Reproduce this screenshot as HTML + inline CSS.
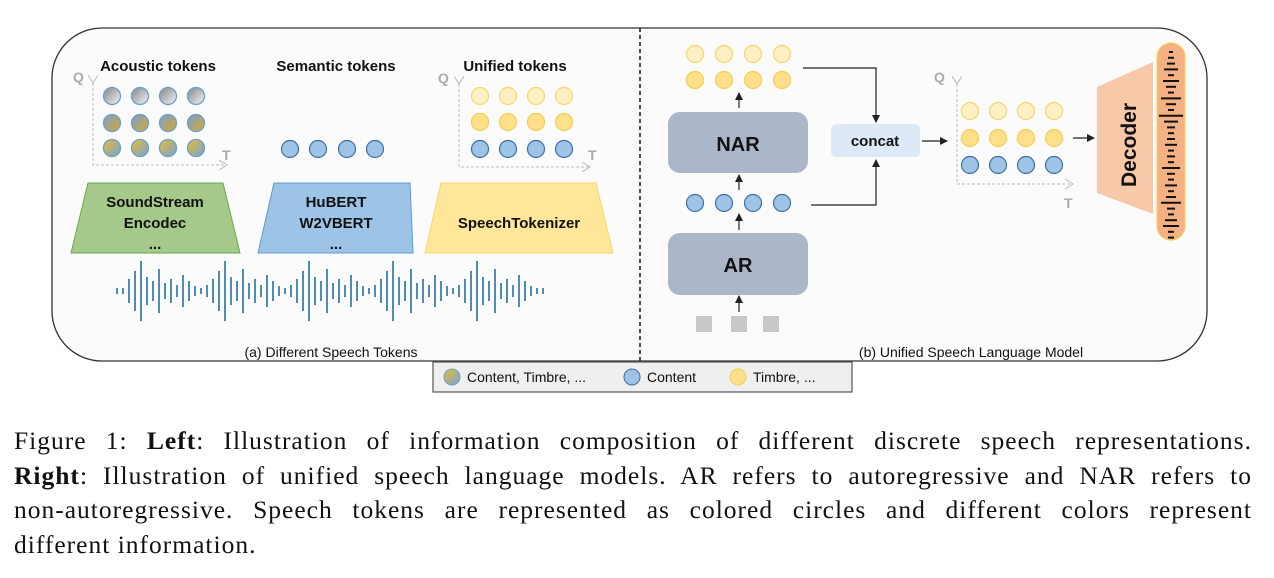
<!DOCTYPE html>
<html><head><meta charset="utf-8"><style>
body{margin:0;background:#fff;width:1274px;height:578px;overflow:hidden}
svg{position:absolute;left:0;top:0}
.cap{position:absolute;left:14px;top:424px;width:1238px;font-family:"Liberation Serif",serif;font-size:25.5px;letter-spacing:1px;line-height:34.5px;color:#111}
.cap div{white-space:nowrap}
.j{text-align:justify;text-align-last:justify;white-space:normal!important}
</style></head><body>
<svg width="1274" height="420" viewBox="0 0 1274 420" font-family="Liberation Sans, sans-serif">
<defs>
<linearGradient id="g1" x1="0" y1="0" x2="1" y2="1"><stop offset="0.2" stop-color="#9a9a9a"/><stop offset="0.8" stop-color="#e0e0e0"/></linearGradient>
<linearGradient id="g2" x1="0" y1="0" x2="1" y2="1"><stop offset="0.2" stop-color="#8fa0b0"/><stop offset="0.8" stop-color="#c4a84a"/></linearGradient>
<linearGradient id="g3" x1="0" y1="0" x2="1" y2="1"><stop offset="0.1" stop-color="#e2b93a"/><stop offset="0.9" stop-color="#7ea6cc"/></linearGradient>
<marker id="ar" markerWidth="8" markerHeight="8" refX="7" refY="4" orient="auto" markerUnits="userSpaceOnUse"><path d="M0,0 L8,4 L0,8 z" fill="#222"/></marker>
<marker id="ag" markerWidth="10" markerHeight="10" refX="8" refY="5" orient="auto" markerUnits="userSpaceOnUse"><path d="M0,0 L8,5 L0,10" fill="none" stroke="#bbb"/></marker>
</defs>
<rect x="52" y="28" width="1155" height="333" rx="50" fill="#fbfbfb" stroke="#333" stroke-width="1.3"/>
<line x1="640" y1="28" x2="640" y2="361" stroke="#222" stroke-width="1.6" stroke-dasharray="4,3"/>

<g font-weight="bold" font-size="15" fill="#111" text-anchor="middle">
<text x="158" y="71">Acoustic tokens</text>
<text x="336" y="71">Semantic tokens</text>
<text x="515" y="71">Unified tokens</text>
</g>
<g font-weight="bold" font-size="14" fill="#aaa">
<text x="73" y="82">Q</text><text x="222" y="160">T</text>
<text x="438" y="83">Q</text><text x="588" y="160">T</text>
<text x="934" y="82">Q</text><text x="1064" y="208">T</text>
</g>
<g stroke="#bbb" stroke-dasharray="3,2" fill="none">
<polyline points="93,83 93,165 227,165" marker-start="url(#ag)" marker-end="url(#ag)"/>
<polyline points="459,84 459,167 590,167" marker-start="url(#ag)" marker-end="url(#ag)"/>
<polyline points="957,84 957,184 1073,184" marker-start="url(#ag)" marker-end="url(#ag)"/>
</g>
<g stroke="#6a9fd0" stroke-width="1.3">
<circle cx="112" cy="96" r="8.5" fill="url(#g1)"/><circle cx="140" cy="96" r="8.5" fill="url(#g1)"/><circle cx="168" cy="96" r="8.5" fill="url(#g1)"/><circle cx="196" cy="96" r="8.5" fill="url(#g1)"/>
<circle cx="112" cy="123" r="8.5" fill="url(#g2)"/><circle cx="140" cy="123" r="8.5" fill="url(#g2)"/><circle cx="168" cy="123" r="8.5" fill="url(#g2)"/><circle cx="196" cy="123" r="8.5" fill="url(#g2)"/>
<circle cx="112" cy="148" r="8.5" fill="url(#g3)"/><circle cx="140" cy="148" r="8.5" fill="url(#g3)"/><circle cx="168" cy="148" r="8.5" fill="url(#g3)"/><circle cx="196" cy="148" r="8.5" fill="url(#g3)"/>
</g>
<g fill="#9dc3e6" stroke="#3f6f9f" stroke-width="1.2">
<circle cx="290" cy="149" r="8.5"/><circle cx="318" cy="149" r="8.5"/><circle cx="347" cy="149" r="8.5"/><circle cx="375" cy="149" r="8.5"/>
<circle cx="480" cy="149" r="8.5"/><circle cx="508" cy="149" r="8.5"/><circle cx="536" cy="149" r="8.5"/><circle cx="564" cy="149" r="8.5"/>
<circle cx="695" cy="203" r="8.5"/><circle cx="724" cy="203" r="8.5"/><circle cx="753" cy="203" r="8.5"/><circle cx="782" cy="203" r="8.5"/>
<circle cx="970" cy="165" r="8.5"/><circle cx="998" cy="165" r="8.5"/><circle cx="1026" cy="165" r="8.5"/><circle cx="1054" cy="165" r="8.5"/>
</g>
<g fill="#ffe08a" stroke="#f5cd50" stroke-width="1.2">
<circle cx="480" cy="122" r="8.5"/><circle cx="508" cy="122" r="8.5"/><circle cx="536" cy="122" r="8.5"/><circle cx="564" cy="122" r="8.5"/>
<circle cx="695" cy="80" r="8.5"/><circle cx="724" cy="80" r="8.5"/><circle cx="753" cy="80" r="8.5"/><circle cx="782" cy="80" r="8.5"/>
<circle cx="970" cy="138" r="8.5"/><circle cx="998" cy="138" r="8.5"/><circle cx="1026" cy="138" r="8.5"/><circle cx="1054" cy="138" r="8.5"/>
</g>
<g fill="#fff0c4" stroke="#f5d570" stroke-width="1.2">
<circle cx="480" cy="96" r="8.5"/><circle cx="508" cy="96" r="8.5"/><circle cx="536" cy="96" r="8.5"/><circle cx="564" cy="96" r="8.5"/>
<circle cx="695" cy="54" r="8.5"/><circle cx="724" cy="54" r="8.5"/><circle cx="753" cy="54" r="8.5"/><circle cx="782" cy="54" r="8.5"/>
<circle cx="970" cy="111" r="8.5"/><circle cx="998" cy="111" r="8.5"/><circle cx="1026" cy="111" r="8.5"/><circle cx="1054" cy="111" r="8.5"/>
</g>
<polygon points="88,183 223,183 240,253 71,253" fill="#a5c98a" stroke="#6aa84f"/>
<polygon points="274,183 410,183 413,253 258,253" fill="#9dc3e6" stroke="#5b9bd5"/>
<polygon points="441,183 596,183 613,253 425,253" fill="#ffe699" stroke="#f5d76e"/>
<g font-weight="bold" font-size="15" fill="#111" text-anchor="middle">
<text x="155" y="207">SoundStream</text><text x="155" y="228">Encodec</text><text x="155" y="249">...</text>
<text x="336" y="207">HuBERT</text><text x="336" y="228">W2VBERT</text><text x="336" y="249">...</text>
<text x="519" y="228">SpeechTokenizer</text>
</g>
<g id="wave" stroke="#3f7fad" stroke-width="1.8"></g>
<text x="331" y="357" font-size="14" fill="#111" text-anchor="middle">(a) Different Speech Tokens</text>
<text x="971" y="357" font-size="14" fill="#111" text-anchor="middle">(b) Unified Speech Language Model</text>

<rect x="668" y="112" width="140" height="61" rx="12" fill="#abb6c9"/>
<rect x="668" y="233" width="140" height="62" rx="12" fill="#abb6c9"/>
<text x="738" y="151" font-size="20" font-weight="bold" text-anchor="middle" fill="#111">NAR</text>
<text x="738" y="272" font-size="20" font-weight="bold" text-anchor="middle" fill="#111">AR</text>
<rect x="696" y="316" width="16" height="16" fill="#c8c8c8"/><rect x="731" y="316" width="16" height="16" fill="#c8c8c8"/><rect x="763" y="316" width="16" height="16" fill="#c8c8c8"/>
<g stroke="#222" stroke-width="1.2" fill="none">
<line x1="739" y1="108" x2="739" y2="93" marker-end="url(#ar)"/>
<line x1="739" y1="190" x2="739" y2="175" marker-end="url(#ar)"/>
<line x1="739" y1="230" x2="739" y2="214" marker-end="url(#ar)"/>
<line x1="739" y1="312" x2="739" y2="296" marker-end="url(#ar)"/>
<polyline points="803,68 876,68 876,122" marker-end="url(#ar)"/>
<polyline points="811,205 876,205 876,160" marker-end="url(#ar)"/>
<line x1="922" y1="141" x2="947" y2="141" marker-end="url(#ar)"/>
<line x1="1073" y1="138" x2="1094" y2="138" marker-end="url(#ar)"/>
</g>
<rect x="831" y="124" width="89" height="33" rx="5" fill="#dde9f6"/>
<text x="875" y="146" font-size="15" font-weight="bold" text-anchor="middle" fill="#111">concat</text>
<polygon points="1097,87 1153,62 1153,214 1097,193" fill="#f8c9a8"/>
<text transform="translate(1136,145) rotate(-90)" font-size="21" font-weight="bold" text-anchor="middle" fill="#111">Decoder</text>
<rect x="1157" y="43" width="28" height="197" rx="14" fill="#f4b183" stroke="#f7d060" stroke-width="1.2"/>
<g id="wave2" stroke="#111" stroke-width="2"></g>

<rect x="433" y="362" width="419" height="30" fill="#efefef" stroke="#555" stroke-width="1.2"/>
<circle cx="452" cy="377" r="8" fill="url(#g3)" stroke="#6a9fd0"/>
<text x="467" y="382" font-size="14" fill="#111">Content, Timbre, ...</text>
<circle cx="632" cy="377" r="8" fill="#9dc3e6" stroke="#3f6f9f"/>
<text x="647" y="382" font-size="14" fill="#111">Content</text>
<circle cx="738" cy="377" r="8" fill="#ffe08a" stroke="#f5cd50"/>
<text x="753" y="382" font-size="14" fill="#111">Timbre, ...</text>
</svg>
<div class="cap">
<div class="j">Figure 1: <b>Left</b>: Illustration of information composition of different discrete speech representations.</div>
<div class="j"><b>Right</b>: Illustration of unified speech language models. AR refers to autoregressive and NAR refers to</div>
<div class="j">non-autoregressive. Speech tokens are represented as colored circles and different colors represent</div>
<div>different information.</div>
</div>
<script>
(function(){
var ns="http://www.w3.org/2000/svg";
var w=document.getElementById("wave");
var pat=[3,6,12,20,30,14,10,22,8,12,6,16,10,5];
for(var i=0;i<72;i++){var x=117+i*6;var h=pat[i%pat.length];if(i<2||i>69)h=3;
var l=document.createElementNS(ns,"line");l.setAttribute("x1",x);l.setAttribute("x2",x);l.setAttribute("y1",291-h);l.setAttribute("y2",291+h);w.appendChild(l);}
var w2=document.getElementById("wave2");
var p2=[2,3,4,7,3,8,5,3,10,5,3,12,7,4,3,4,6,3,4,3,9,4,3,6,3,5,10,4,3,6,8,3,3];
for(var j=0;j<33;j++){var y=52+j*5.8;var hw=p2[j];
var m=document.createElementNS(ns,"line");m.setAttribute("x1",1171-hw);m.setAttribute("x2",1171+hw);m.setAttribute("y1",y);m.setAttribute("y2",y);w2.appendChild(m);}
})();
</script>
</body></html>
